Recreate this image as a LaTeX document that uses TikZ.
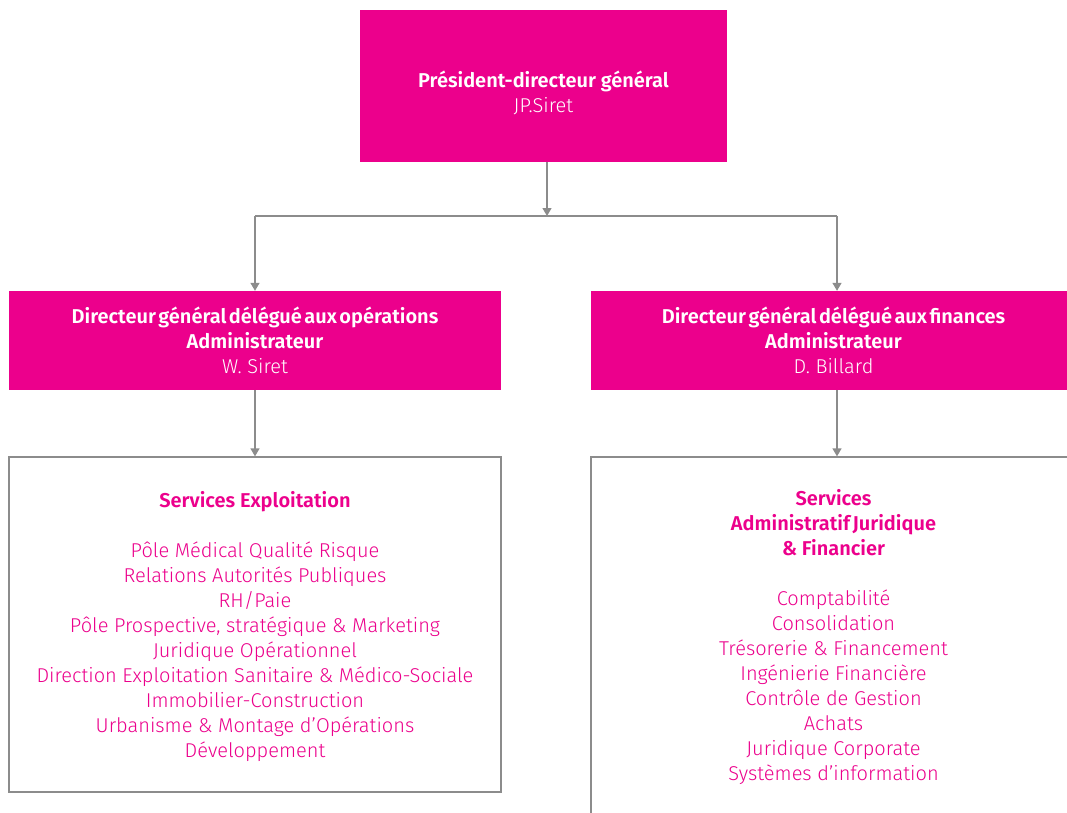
\documentclass[tikz,border=0pt]{standalone}
\usepackage{fontspec}
\setmainfont{Fira Sans Light}[BoldFont=Fira Sans SemiBold]
\usetikzlibrary{arrows.meta,positioning}

\definecolor{fuchsia}{HTML}{EC008C}
\definecolor{wire}{HTML}{8C8C8C}

% bold title line with narrow word gaps
\newcommand{\tight}[1]{{\bfseries\spaceskip=2.5pt plus 1pt\relax #1}}

\begin{document}
\begin{tikzpicture}[
    x=1pt, y=-1pt,
    % Node styles
    head/.style={rectangle, fill=fuchsia, text=white, align=center,
                 inner sep=0pt, font=\fontsize{20}{25}\selectfont},
    service/.style={rectangle, draw=wire, line width=1.3pt, fill=white,
                    text=fuchsia, align=center, inner sep=0pt,
                    font=\fontsize{20}{25}\selectfont},
    line/.style={wire, line width=1.3pt},
    arrow/.style={line, -{Triangle[width=9pt,length=8pt]}}
]
\useasboundingbox (0,0) rectangle (1067,812);
\fill[white] (0,0) rectangle (1067,812);

% Top of the chart
\node[head, minimum width=367pt, minimum height=152pt, text height=52pt, text depth=0pt] (pdg) at (543.5,86) {
    \textbf{Président-directeur général}\\
    JP.Siret
};

% Deputy directors
\node[head, minimum width=492pt, minimum height=99pt] (dgops) at (255,340.5) {
    \tight{Directeur général délégué aux opérations}\\
    \textbf{Administrateur}\\
    W. Siret
};
\node[head, minimum width=485pt, minimum height=99pt] (dgfin) at (833.5,340.5) {
    \tight{Directeur général délégué aux finances}\\
    \textbf{Administrateur}\\
    D. Billard
};

% Services under each deputy
\node[service, minimum width=492pt, minimum height=335pt, text depth=-1.5pt] (exploit) at (255,624.5) {
    \textbf{Services Exploitation}\\[25pt]
    Pôle Médical Qualité Risque\\
    Relations Autorités Publiques\\
    RH/Paie\\
    Pôle Prospective, stratégique \& Marketing\\
    Juridique Opérationnel\\
    Direction Exploitation Sanitaire \& Médico-Sociale\\
    Immobilier-Construction\\
    Urbanisme \& Montage d’Opérations\\
    Développement
};
\node[service, minimum width=485pt, minimum height=357pt, text depth=1.5pt] (admin) at (833.5,635.5) {
    \textbf{Services}\\
    \tight{Administratif Juridique}\\
    \textbf{\& Financier}\\[25pt]
    Comptabilité\\
    Consolidation\\
    Trésorerie \& Financement\\
    Ingénierie Financière\\
    Contrôle de Gestion\\
    Achats\\
    Juridique Corporate\\
    Systèmes d’information
};

% Connectors
\coordinate (split) at ([xshift=3.5pt]pdg.south |- 0,216);
\draw[arrow] ([xshift=3.5pt]pdg.south) -- (split);
\draw[line] (dgops.north |- split) -- ([xshift=3.5pt]dgfin.north |- split);
\draw[arrow] (dgops.north |- split) -- (dgops.north);
\draw[arrow] ([xshift=3.5pt]dgfin.north |- split) -- ([xshift=3.5pt]dgfin.north);
\draw[arrow] (dgops) -- (exploit);
\draw[arrow] ([xshift=3.5pt]dgfin.south) -- ([xshift=3.5pt]admin.north);

\end{tikzpicture}
\end{document}
